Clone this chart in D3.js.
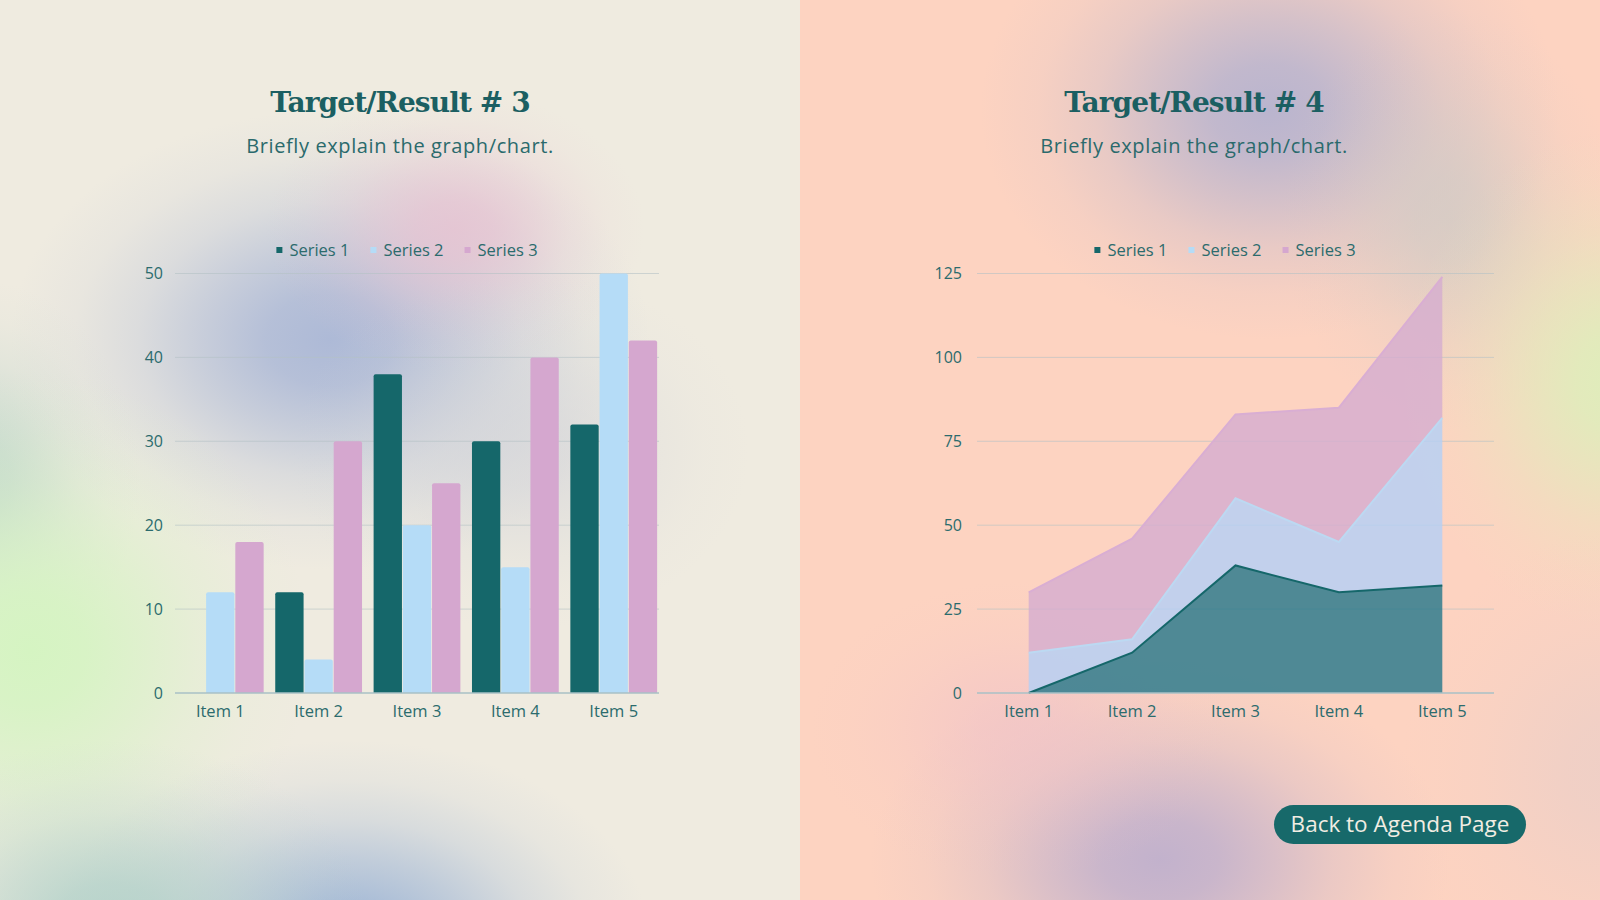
<!DOCTYPE html>
<html>
<head>
<meta charset="utf-8">
<script src="https://cdn.jsdelivr.net/npm/d3@7"></script>
<style>
  html, body { margin: 0; padding: 0; overflow: hidden; }
  body { width: 1600px; height: 900px; }
  text { font-family: "Open Sans", "Noto Sans", sans-serif; }
  .title { font-family: "DejaVu Serif", "Liberation Serif", serif; font-weight: 700; }
</style>
</head>
<body>
<div id="slide"></div>
<script>
// ---------- data ----------
const items = ["Item 1", "Item 2", "Item 3", "Item 4", "Item 5"];
const seriesNames = ["Series 1", "Series 2", "Series 3"];
const series1 = [0, 12, 38, 30, 32];
const series2 = [12, 4, 20, 15, 50];
const series3 = [18, 30, 25, 40, 42];
const barTicks = [0, 10, 20, 30, 40, 50];
const areaTicks = [0, 25, 50, 75, 100, 125];

// colours used across both charts
const textCol = "#2b6b6d";
const seriesColors = ["#15676a", "#b5dcf7", "#d5a7cf"];

// rows for the charts, one per item
const rows = items.map((it, i) => ({
    item: it,
    "Series 1": series1[i],
    "Series 2": series2[i],
    "Series 3": series3[i]
}));

const W = 1600, H = 900;
const svg = d3.select("#slide").append("svg")
    .attr("width", W)
    .attr("height", H);

const defs = svg.append("defs");

// ---------- background panels with soft blobs ----------
const panels = [
    { id: "left", x: 0, w: 800, base: "#efebe0",
      blobs: [
        { cx: 330, cy: 340, rx: 320, ry: 230, c: "#aab7d6", o: 0.95 },
        { cx: 455, cy: 230, rx: 190, ry: 140, c: "#e6c0d1", o: 0.8 },
        { cx: 520, cy: 450, rx: 230, ry: 180, c: "#d0d2d9", o: 0.6 },
        { cx: -20, cy: 480, rx: 160, ry: 200, c: "#bcd4cb", o: 0.8 },
        { cx: 30, cy: 650, rx: 280, ry: 280, c: "#d5f4c2", o: 1 },
        { cx: 350, cy: 940, rx: 300, ry: 200, c: "#a2b8d6", o: 1 },
        { cx: 110, cy: 920, rx: 260, ry: 180, c: "#b2d1c9", o: 0.9 }
      ] },
    { id: "right", x: 800, w: 800, base: "#fdd3c1",
      blobs: [
        { cx: 1270, cy: 110, rx: 290, ry: 230, c: "#b6b3cf", o: 0.95 },
        { cx: 1450, cy: 220, rx: 170, ry: 210, c: "#c9cac6", o: 0.65 },
        { cx: 1620, cy: 380, rx: 220, ry: 250, c: "#dfedbb", o: 1 },
        { cx: 1160, cy: 860, rx: 290, ry: 200, c: "#bfb0cd", o: 0.95 },
        { cx: 1020, cy: 730, rx: 210, ry: 150, c: "#efc1c9", o: 0.6 },
        { cx: 1610, cy: 770, rx: 210, ry: 240, c: "#e6cdc9", o: 0.6 }
      ] }
];

// gaussian-like falloff so the blobs have no visible rim
const falloff = [[0, 1], [0.2, 0.88], [0.4, 0.6], [0.6, 0.3], [0.8, 0.1], [1, 0]];

panels.forEach(p => {
    defs.append("clipPath").attr("id", "clip-" + p.id)
        .append("rect").attr("x", p.x).attr("y", 0).attr("width", p.w).attr("height", H);

    const g = svg.append("g").attr("clip-path", `url(#clip-${p.id})`);
    g.append("rect")
        .attr("x", p.x).attr("y", 0)
        .attr("width", p.w).attr("height", H)
        .attr("fill", p.base);

    p.blobs.forEach((b, i) => {
        const gid = `grad-${p.id}-${i}`;
        const grad = defs.append("radialGradient").attr("id", gid);
        falloff.forEach(f => {
            grad.append("stop")
                .attr("offset", f[0])
                .attr("stop-color", b.c)
                .attr("stop-opacity", b.o * f[1]);
        });
        g.append("ellipse")
            .attr("cx", b.cx).attr("cy", b.cy)
            .attr("rx", b.rx).attr("ry", b.ry)
            .attr("fill", `url(#${gid})`);
    });
});

// ---------- helpers ----------
function drawHeader(cx, label) {
    svg.append("text")
        .attr("class", "title")
        .attr("x", cx).attr("y", 112)
        .attr("text-anchor", "middle")
        .attr("font-size", 28)
        .attr("letter-spacing", -0.9)
        .attr("fill", "#1b5f62")
        .text(label);
    svg.append("text")
        .attr("x", cx).attr("y", 153)
        .attr("text-anchor", "middle")
        .attr("font-size", 20)
        .attr("letter-spacing", 0.6)
        .attr("fill", "#2a6a6c")
        .text("Briefly explain the graph/chart.");
}

function drawLegend(cx, cy) {
    const lg = svg.append("g");
    let xPos = 0;
    seriesNames.forEach((name, i) => {
        lg.append("rect")
            .attr("x", xPos).attr("y", cy - 3)
            .attr("width", 6).attr("height", 6)
            .attr("fill", seriesColors[i]);
        const t = lg.append("text")
            .attr("x", xPos + 13).attr("y", cy + 5.5)
            .attr("font-size", 16.5)
            .attr("fill", textCol)
            .text(name);
        xPos += 13 + t.node().getComputedTextLength() + 21;
    });
    const total = xPos - 21;
    lg.attr("transform", `translate(${cx - total / 2},0)`);
}

function drawYAxis(y, ticks, x0, x1, labelX) {
    const g = svg.append("g");
    g.selectAll("line.grid")
        .data(ticks.filter(t => t > 0))
        .enter()
        .append("line")
        .attr("x1", x0).attr("x2", x1)
        .attr("y1", d => y(d)).attr("y2", d => y(d))
        .attr("stroke", "#b4c2c4")
        .attr("stroke-opacity", 0.6)
        .attr("stroke-width", 1);
    g.selectAll("text")
        .data(ticks)
        .enter()
        .append("text")
        .attr("x", labelX)
        .attr("y", d => y(d) + 5.5)
        .attr("text-anchor", "end")
        .attr("font-size", 16)
        .attr("fill", textCol)
        .text(d => d);
}

function drawBaseline(y, x0, x1) {
    svg.append("line")
        .attr("x1", x0).attr("x2", x1)
        .attr("y1", y(0)).attr("y2", y(0))
        .attr("stroke", "#a8c0c6")
        .attr("stroke-width", 1.5);
}

function drawItemLabels(xc) {
    svg.append("g").selectAll("text")
        .data(items)
        .enter()
        .append("text")
        .attr("x", d => xc(d))
        .attr("y", 717)
        .attr("text-anchor", "middle")
        .attr("font-size", 16.5)
        .attr("fill", textCol)
        .text(d => d);
}

// ---------- left: grouped bar chart ----------
const barLeft = 175, barRight = 659, plotTop = 273.5, plotBottom = 693;

const x0 = d3.scaleBand().domain(items).range([barLeft + 1, barRight - 1])
    .paddingInner(0.1).paddingOuter(0);
const x1 = d3.scaleBand().domain(seriesNames).range([0, x0.bandwidth()]).padding(0.03);
const yBar = d3.scaleLinear().domain([0, 50]).range([plotBottom, plotTop]);

drawHeader(400, "Target/Result # 3");
drawLegend(407, 250);
drawYAxis(yBar, barTicks, barLeft, barRight, 163);

const groups = svg.append("g").selectAll("g")
    .data(rows)
    .enter()
    .append("g")
    .attr("transform", d => `translate(${x0(d.item)},0)`);

// bars with slightly rounded top corners
groups.selectAll("path")
    .data(d => seriesNames.map((s, i) => ({ key: s, i: i, value: d[s] })))
    .enter()
    .filter(d => d.value > 0)
    .append("path")
    .attr("d", d => {
        const bx = x1(d.key), bw = x1.bandwidth();
        const top = yBar(d.value), bot = yBar(0), r = 2;
        return `M${bx},${bot} L${bx},${top + r} Q${bx},${top} ${bx + r},${top}` +
               ` L${bx + bw - r},${top} Q${bx + bw},${top} ${bx + bw},${top + r} L${bx + bw},${bot} Z`;
    })
    .attr("fill", d => seriesColors[d.i]);

drawBaseline(yBar, barLeft, barRight);
drawItemLabels(d => x0(d) + x0.bandwidth() / 2);

// ---------- right: stacked area chart ----------
const areaLeft = 977, areaRight = 1494;
const xArea = d3.scalePoint().domain(items).range([areaLeft, areaRight]).padding(0.5);
const yArea = d3.scaleLinear().domain([0, 125]).range([plotBottom, plotTop]);

drawHeader(1194, "Target/Result # 4");
drawLegend(1225, 250);
drawYAxis(yArea, areaTicks, areaLeft, areaRight, 962);

const stacked = d3.stack().keys(seriesNames)(rows);

const area = d3.area()
    .x(d => xArea(d.data.item))
    .y0(d => yArea(d[0]))
    .y1(d => yArea(d[1]));

const topLine = d3.line()
    .x(d => xArea(d.data.item))
    .y(d => yArea(d[1]));

const areaFills = ["#23778a", "#b3cff6", "#d4add0"];
const lineColors = ["#15676a", "#bcd9f2", "#d9aed3"];

svg.append("g").selectAll("path")
    .data(stacked)
    .enter()
    .append("path")
    .attr("d", area)
    .attr("fill", (d, i) => areaFills[i])
    .attr("fill-opacity", 0.8);

svg.append("g").selectAll("path")
    .data(stacked)
    .enter()
    .append("path")
    .attr("d", topLine)
    .attr("fill", "none")
    .attr("stroke", (d, i) => lineColors[i])
    .attr("stroke-width", 2);

drawBaseline(yArea, areaLeft, areaRight);
drawItemLabels(d => xArea(d));

// ---------- back button ----------
const btn = svg.append("g");
btn.append("rect")
    .attr("x", 1274).attr("y", 805)
    .attr("width", 252).attr("height", 39)
    .attr("rx", 19.5)
    .attr("fill", "#17696a");
btn.append("text")
    .attr("x", 1400).attr("y", 832)
    .attr("text-anchor", "middle")
    .attr("font-size", 22.5)
    .attr("fill", "#f1ede3")
    .text("Back to Agenda Page");
</script>
</body>
</html>
